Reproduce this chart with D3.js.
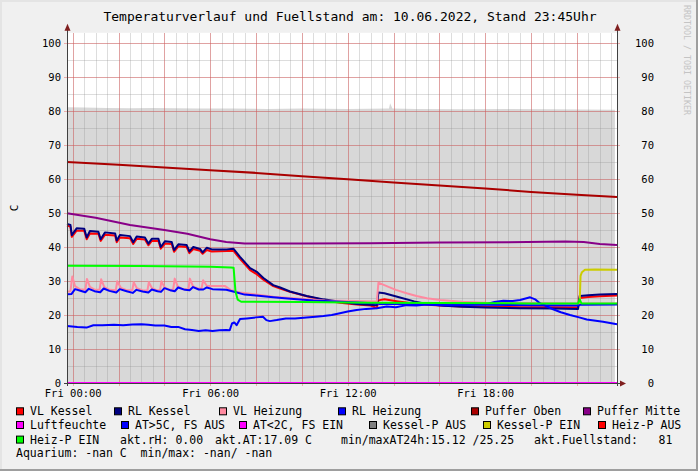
<!DOCTYPE html>
<html><head><meta charset="utf-8">
<script src="https://cdn.jsdelivr.net/npm/d3@7"></script>
<style>html,body{margin:0;padding:0;background:#f0f0f0}svg{display:block}</style>
</head><body><svg id="c" width="698" height="471"></svg>
<script>
// ---------------- DATA ----------------
const chartTitle = "Temperaturverlauf und Fuellstand am: 10.06.2022, Stand 23:45Uhr";
const yAxisLabel = "C";
const yTickValues = [0,10,20,30,40,50,60,70,80,90,100];
const xLabelHours = [0,6,12,18];
const xLabelTexts = ["Fri 00:00","Fri 06:00","Fri 12:00","Fri 18:00"];
// [hours since Fri 00:00, value]
const fuellstand = [[-0.25,81.1],[0.5,81.0],[1.5,80.9],[2.5,80.8],[3.5,80.9],[4.5,80.8],[5.5,80.7],[7,80.7],[8.5,80.6],[10,80.7],[12,80.6],[13.8,80.7],[13.85,82.3],[13.95,80.7],[15,80.6],[17,80.5],[19,80.6],[21,80.5],[23.66,80.4]];
const vlKessel = [[-0.25,46.3],[-0.1,46.0],[-0.04,43.0],[0.17,44.8],[0.5,44.8],[0.61,42.3],[0.75,44.0],[1.12,43.9],[1.22,41.8],[1.41,43.6],[1.85,43.4],[1.92,41.4],[2.06,42.8],[2.5,42.6],[2.64,40.9],[2.79,42.4],[3.15,42.2],[3.3,40.5],[3.45,41.8],[3.74,41.8],[3.84,39.5],[4.03,41.0],[4.32,40.9],[4.42,38.6],[4.61,40.2],[4.97,40.0],[5.09,38.2],[5.26,39.4],[5.56,38.9],[5.67,38.0],[5.85,39.1],[6.07,38.7],[6.72,38.8],[7.01,38.9],[7.3,36.5],[7.74,33.2],[8.03,32.0],[8.32,30.4],[8.75,28.5],[9.05,27.8],[9.48,26.8],[10.21,25.5],[10.94,24.4],[11.66,23.6],[12.39,23.1],[13.0,22.8],[13.27,22.0],[13.34,24.3],[13.6,24.6],[14.2,24.0],[14.9,23.4],[15.5,23.0],[16.2,22.7],[17,22.5],[18,22.4],[19.5,22.3],[21,22.3],[22.05,22.2],[22.12,25.0],[22.5,25.3],[23,25.5],[23.75,25.7]];
const rlKessel = [[-0.25,46.8],[-0.1,46.5],[-0.04,43.5],[0.17,45.5],[0.5,45.4],[0.61,42.8],[0.75,44.7],[1.12,44.5],[1.22,42.3],[1.41,44.3],[1.85,44.0],[1.92,41.9],[2.06,43.5],[2.5,43.2],[2.64,41.4],[2.79,43.1],[3.15,42.8],[3.3,41.0],[3.45,42.4],[3.74,42.4],[3.84,40.0],[4.03,41.7],[4.32,41.5],[4.42,39.1],[4.61,40.8],[4.97,40.6],[5.09,38.7],[5.26,40.0],[5.56,39.4],[5.67,38.4],[5.85,39.8],[6.07,39.3],[6.72,39.3],[7.01,39.5],[7.3,37.1],[7.74,33.8],[8.03,32.7],[8.32,30.9],[8.75,28.8],[9.05,28.1],[9.48,26.9],[10.21,25.6],[10.94,24.6],[11.66,23.9],[12.39,23.2],[13.27,22.9],[13.34,26.6],[13.6,26.4],[14.2,25.3],[14.9,24.0],[15.5,23.2],[16.2,22.7],[17,22.4],[18,22.2],[19.5,22.0],[21,21.9],[22.05,21.8],[22.12,25.6],[22.5,25.8],[23,26.0],[23.75,26.2]];
const vlHeizung = [[-0.25,26.8],[-0.1,27.0],[-0.02,31.3],[0.1,28.5],[0.3,27.6],[0.55,27.4],[0.62,30.6],[0.75,28.3],[0.95,27.5],[1.17,27.4],[1.24,30.5],[1.38,28.2],[1.6,27.4],[1.88,27.3],[1.94,29.9],[2.1,28.0],[2.35,27.3],[2.6,27.3],[2.66,29.6],[2.8,27.9],[3.05,27.2],[3.26,27.2],[3.32,29.6],[3.46,27.9],[3.65,27.3],[3.81,27.3],[3.87,29.9],[4.0,28.2],[4.2,27.4],[4.38,27.4],[4.45,30.7],[4.58,28.4],[4.8,27.6],[5.05,27.6],[5.11,30.7],[5.25,28.4],[5.45,27.8],[5.62,27.8],[5.69,30.2],[5.85,28.6],[6.0,28.5],[6.65,28.5],[6.9,27.3],[7.3,26.6],[8.0,26.0],[8.75,25.4],[9.5,25.0],[10.21,24.6],[11.0,24.3],[11.66,24.2],[12.4,24.1],[13.27,24.0],[13.34,29.5],[13.7,28.5],[14.1,27.4],[14.57,26.4],[15.0,25.6],[15.45,24.9],[16.03,24.4],[17,23.9],[18,23.6],[20,23.5],[22.05,23.4],[23.75,23.4]];
const rlHeizung = [[-0.25,26.1],[-0.05,26.2],[0.1,27.6],[0.3,27.2],[0.55,26.7],[0.7,27.7],[0.95,27.0],[1.2,26.7],[1.35,27.8],[1.6,27.1],[1.9,26.6],[2.05,27.6],[2.35,27.0],[2.62,26.5],[2.78,27.4],[3.05,26.9],[3.3,26.6],[3.45,27.5],[3.7,27.0],[3.85,26.8],[4.0,27.9],[4.25,27.3],[4.45,27.0],[4.6,28.1],[4.9,27.4],[5.1,27.3],[5.25,28.2],[5.5,27.5],[5.7,27.5],[5.85,28.1],[6.1,27.6],[6.7,27.4],[7.0,26.9],[7.5,26.0],[8.0,25.7],[8.75,25.2],[9.5,24.8],[10.5,24.3],[11.5,24.0],[12.4,23.7],[13.3,23.4],[13.4,23.2],[14.5,23.2],[16,23.1],[18,23.0],[20,22.9],[22.05,22.8],[22.12,23.0],[23.75,23.1]];
const pufferOben = [[-0.25,65.0],[2,64.2],[4,63.4],[6,62.6],[8,61.8],[10,60.8],[12,59.9],[14,59.0],[16,58.1],[18,57.2],[20,56.2],[22,55.4],[23.75,54.7]];
const pufferMitte = [[-0.25,49.9],[1,48.6],[2.5,46.5],[4,45.0],[5,43.9],[6,42.3],[6.7,41.5],[7.5,41.0],[10,41.0],[13,41.1],[16,41.3],[19,41.4],[21.5,41.6],[22.3,41.5],[23,40.9],[23.75,40.6]];
const luftfeuchte = [[-0.25,0],[23.75,0]];
const aussenTemp = [[-0.25,16.8],[0.2,16.5],[0.6,16.3],[0.9,17.0],[1.3,17.0],[1.8,17.1],[2.2,17.0],[2.6,17.2],[3.0,17.3],[3.3,17.1],[3.6,16.9],[4.0,16.9],[4.3,16.5],[4.6,16.5],[4.9,15.8],[5.2,15.6],[5.5,15.3],[5.8,15.5],[6.1,15.3],[6.4,15.5],[6.7,15.6],[6.85,15.5],[6.95,17.5],[7.05,17.8],[7.15,17.0],[7.3,18.8],[7.6,19.0],[8.0,19.3],[8.3,19.5],[8.45,18.5],[8.6,18.2],[8.9,18.5],[9.3,19.0],[9.7,19.0],[10.2,19.3],[10.6,19.5],[10.94,19.7],[11.3,20.0],[11.66,20.5],[12.0,21.0],[12.39,21.5],[12.8,21.8],[13.27,22.0],[13.7,22.5],[14.1,22.3],[14.57,22.9],[15.0,22.8],[15.45,23.1],[16.0,22.9],[16.59,22.9],[17.3,23.0],[18.07,23.2],[18.4,23.8],[18.79,24.2],[19.2,24.1],[19.52,24.4],[19.96,25.2],[20.18,24.6],[20.4,23.4],[20.96,21.7],[21.3,20.8],[21.7,20.0],[22.1,19.3],[22.43,18.7],[23.14,18.0],[23.75,17.3]];
const kesselPEin = [[22.05,23.4],[22.12,23.5],[22.16,31.5],[22.22,32.6],[22.35,33.3],[22.8,33.4],[23.75,33.3]];
const heizPEin = [[-0.25,34.5],[3,34.4],[6.0,34.2],[6.9,34.0],[7.02,33.9],[7.1,27.0],[7.2,24.5],[7.35,23.9],[10,23.8],[13,23.6],[16,23.5],[20,23.4],[22.05,23.4],[22.12,24.6],[22.2,23.4],[23.75,23.4]];

const legendRow1 = ["VL Kessel","RL Kessel","VL Heizung","RL Heizung","Puffer Oben","Puffer Mitte"];
const legendRow2 = ["Luftfeuchte","AT>5C, FS AUS","AT<2C, FS EIN","Kessel-P AUS","Kessel-P EIN","Heiz-P AUS"];
const legendRow3 = ["Heiz-P EIN"];
const infoRow3 = ["akt.rH: 0.00","akt.AT:17.09 C","min/maxAT24h:15.12 /25.25","akt.Fuellstand:   81"];
const infoRow4 = ["Aquarium: -nan C  min/max: -nan/ -nan"];
const watermark = "RRDTOOL / TOBI OETIKER";

// ---------------- STYLE / LAYOUT ----------------
const colors = {
  "VL Kessel":"#ff0000","RL Kessel":"#000080","VL Heizung":"#ff8aa0","RL Heizung":"#0000ff",
  "Puffer Oben":"#aa0000","Puffer Mitte":"#880088","Luftfeuchte":"#ff00ff","AT>5C, FS AUS":"#0000ff",
  "AT<2C, FS EIN":"#ff00ff","Kessel-P AUS":"#808080","Kessel-P EIN":"#cccc00","Heiz-P AUS":"#ff0000","Heiz-P EIN":"#00ff00"
};
const MONO = "'DejaVu Sans Mono', monospace";
const W = 698, H = 471;
const L = 67, R = 617, B = 383;
const base = new Date(2022,5,10,0,0,0).getTime();
const toDate = h => new Date(base + h*3600e3);

const svg = d3.select("#c");
const x = d3.scaleTime().domain([toDate(-0.25), toDate(23.75)]).range([L, R]);
const y = d3.scaleLinear().domain([0, 103]).range([B, B - 103*3.4]);
const T = y(103);

// background + border
svg.append("rect").attr("width",W).attr("height",H).attr("fill","#f0f0f0");
svg.append("rect").attr("x",0).attr("y",0).attr("width",W).attr("height",2).attr("fill","#e4e4e4");
svg.append("rect").attr("x",0).attr("y",0).attr("width",2).attr("height",H).attr("fill","#e4e4e4");
svg.append("rect").attr("x",W-2).attr("y",0).attr("width",2).attr("height",H).attr("fill","#9e9e9e");
svg.append("rect").attr("x",0).attr("y",H-2).attr("width",W).attr("height",2).attr("fill","#9e9e9e");

// canvas
svg.append("rect").attr("x",L).attr("y",T).attr("width",R-L).attr("height",B-T).attr("fill","#ffffff");

// area (Fuellstand)
const area = d3.area().x(d=>x(toDate(d[0]))).y0(y(0)).y1(d=>y(d[1]));
svg.append("path").datum(fuellstand).attr("d",area).attr("fill","#d8d8d8");

// grid
const g = svg.append("g").attr("shape-rendering","crispEdges");
const minorX = d3.timeMinute.every(30).range(x.domain()[0], x.domain()[1]);
const majorX = d3.timeHour.every(2).range(x.domain()[0], x.domain()[1]);
g.selectAll(".mx").data(minorX).join("line")
  .attr("x1",d=>Math.round(x(d))+0.5).attr("x2",d=>Math.round(x(d))+0.5).attr("y1",T).attr("y2",B)
  .attr("stroke","rgba(143,143,143,0.3)");
g.selectAll(".my").data(d3.range(5,101,5)).join("line")
  .attr("x1",L).attr("x2",R).attr("y1",d=>Math.round(y(d))+0.5).attr("y2",d=>Math.round(y(d))+0.5)
  .attr("stroke","rgba(143,143,143,0.3)");
g.selectAll(".Mx").data(majorX).join("line")
  .attr("x1",d=>Math.round(x(d))+0.5).attr("x2",d=>Math.round(x(d))+0.5).attr("y1",T).attr("y2",B+3)
  .attr("stroke","rgba(229,80,80,0.42)");
g.selectAll(".My").data(yTickValues.filter(v=>v>0)).join("line")
  .attr("x1",L-3).attr("x2",R+3).attr("y1",d=>Math.round(y(d))+0.5).attr("y2",d=>Math.round(y(d))+0.5)
  .attr("stroke","rgba(229,80,80,0.42)");

// lines
const line = d3.line().x(d=>x(toDate(d[0]))).y(d=>y(d[1]));
const drawOrder = [
  ["VL Kessel", vlKessel],["RL Kessel", rlKessel],["VL Heizung", vlHeizung],["RL Heizung", rlHeizung],
  ["Puffer Oben", pufferOben],["Puffer Mitte", pufferMitte],["Luftfeuchte", luftfeuchte],
  ["AT>5C, FS AUS", aussenTemp],["Kessel-P EIN", kesselPEin],["Heiz-P EIN", heizPEin]
];
drawOrder.forEach(([name, data]) => {
  svg.append("path").datum(data).attr("d",line).attr("fill","none")
    .attr("stroke",colors[name]).attr("stroke-width",2).attr("stroke-linejoin","round");
});

// axes lines and arrows
const ax = svg.append("g");
ax.append("line").attr("x1",L+0.5).attr("x2",L+0.5).attr("y1",B+3).attr("y2",T-6).attr("stroke","#404040").attr("shape-rendering","crispEdges");
ax.append("line").attr("x1",R+0.5).attr("x2",R+0.5).attr("y1",B+3).attr("y2",T-6).attr("stroke","#404040").attr("shape-rendering","crispEdges");
ax.append("line").attr("x1",L-3).attr("x2",R+5).attr("y1",B+0.5).attr("y2",B+0.5).attr("stroke","#404040").attr("shape-rendering","crispEdges");
const arrowCol = "#7f1f1f";
[L,R].forEach(px => {
  ax.append("path").attr("d",`M${px+0.5-3},${T-2} L${px+0.5+3},${T-2} L${px+0.5},${T-9} Z`).attr("fill",arrowCol);
});
ax.append("path").attr("d",`M${R+3},${B+0.5-3} L${R+3},${B+0.5+3} L${R+9},${B+0.5} Z`).attr("fill",arrowCol);

// y axis labels via d3 axis
const yl = svg.append("g").attr("transform",`translate(${L},0)`)
  .call(d3.axisLeft(y).tickValues(yTickValues).tickSize(0).tickPadding(6).tickFormat(d3.format("d")));
yl.select(".domain").remove();
yl.selectAll("text").attr("font-family",MONO).attr("font-size","10.5px").attr("fill","#000");
const yr = svg.append("g").attr("transform",`translate(${R},0)`)
  .call(d3.axisRight(y).tickValues(yTickValues).tickSize(0).tickPadding(37).tickFormat(d3.format("d")));
yr.select(".domain").remove();
yr.selectAll("text").attr("font-family",MONO).attr("font-size","10.5px").attr("fill","#000").attr("text-anchor","end");

// x axis labels
const xl = svg.append("g").attr("transform",`translate(0,${B})`)
  .call(d3.axisBottom(x).tickValues(xLabelHours.map(toDate)).tickSize(0).tickPadding(7)
    .tickFormat((d,i)=>xLabelTexts[i]));
xl.select(".domain").remove();
xl.selectAll("text").attr("font-family",MONO).attr("font-size","10.5px").attr("fill","#000");

// title
svg.append("text").attr("x",350).attr("y",21).attr("text-anchor","middle")
  .attr("font-family",MONO).attr("font-size","13px").attr("fill","#000").text(chartTitle);

// y label
svg.append("text").attr("transform","translate(18,208) rotate(-90)").attr("text-anchor","middle")
  .attr("font-family",MONO).attr("font-size","11px").attr("fill","#000").text(yAxisLabel);

// watermark
svg.append("text").attr("transform","translate(684,5) rotate(90)").attr("text-anchor","start")
  .attr("font-family",MONO).attr("font-size","8.3px").attr("fill","#c4c4c4").text(watermark);

// legend
const legendFont = "11.5px";
const rowBase = [415.3, 429, 443.6, 457.3];
const row1X = [30,128,233,352,485,597];
const row2X = [30,135,253,383,497,612];
const info3X = [120,215,341,534];
function legendItem(name, tx, by){
  svg.append("rect").attr("x",tx-13.5).attr("y",by-7.5).attr("width",7).attr("height",7)
    .attr("fill",colors[name]).attr("stroke","#000").attr("stroke-width",1);
  svg.append("text").attr("x",tx).attr("y",by).attr("font-family",MONO).attr("font-size",legendFont)
    .attr("fill","#000").text(name);
}
legendRow1.forEach((n,i)=>legendItem(n,row1X[i],rowBase[0]));
legendRow2.forEach((n,i)=>legendItem(n,row2X[i],rowBase[1]));
legendRow3.forEach((n,i)=>legendItem(n,30,rowBase[2]));
infoRow3.forEach((t,i)=>svg.append("text").attr("x",info3X[i]).attr("y",rowBase[2]).attr("font-family",MONO)
  .attr("font-size",legendFont).attr("fill","#000").style("white-space","pre").text(t));
infoRow4.forEach(t=>svg.append("text").attr("x",16).attr("y",rowBase[3]).attr("font-family",MONO)
  .attr("font-size",legendFont).attr("fill","#000").style("white-space","pre").text(t));
</script></body></html>
